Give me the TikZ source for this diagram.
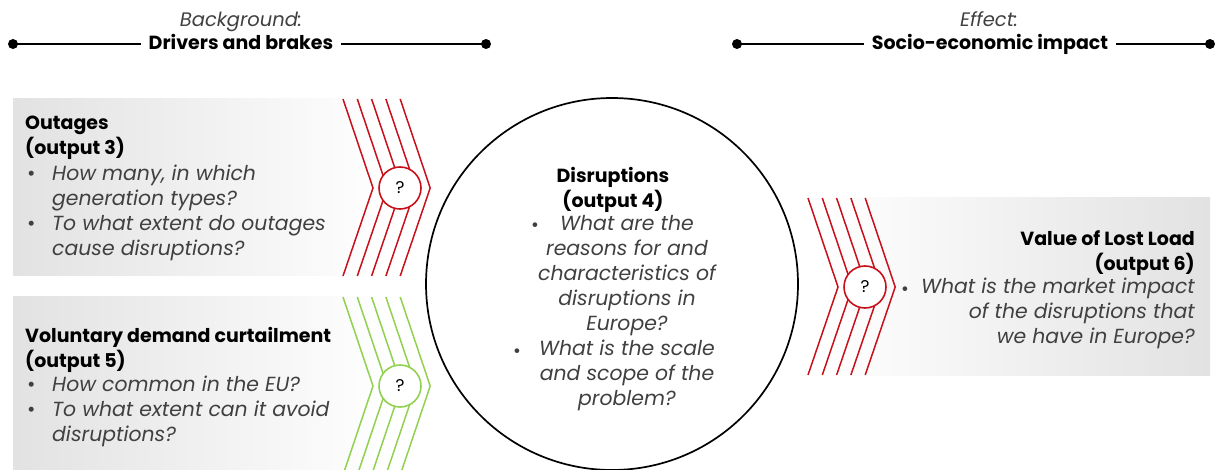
\documentclass[tikz,border=0pt]{standalone}
\usepackage{fontspec}
\setmainfont{Poppins}
\definecolor{chevred}{RGB}{200,16,26}
\definecolor{chevgreen}{RGB}{146,208,80}
\definecolor{boxgray}{RGB}{226,226,226}
\definecolor{itgray}{RGB}{64,64,64}
\newcommand{\bul}{\hspace*{2pt}\makebox[25pt][l]{\textbullet}}
\newcommand{\ind}{\hspace*{27pt}}
\begin{document}
\begin{tikzpicture}[x=1pt,y=-1pt,
  txt/.style={inner sep=0pt, font=\fontsize{19}{25}\selectfont},
  ttl/.style={txt, font=\fontsize{19}{25}\selectfont\bfseries, text=black},
  qst/.style={txt, font=\fontsize{20.4}{25}\selectfont\itshape, text=itgray},
  headline/.style={line width=1.6pt, black},
  chevline/.style={line width=1.5pt, line join=miter},
  qmark/.style={circle, draw, line width=1.6pt, fill=white, minimum size=42pt, inner sep=0pt,
    font=\fontsize{17}{17}\selectfont, text=black},
  bigcirc/.style={circle, draw=black, line width=1.7pt, minimum size=372pt, inner sep=0pt}
]
\useasboundingbox (0,0) rectangle (1218,470);
\clip (0,0) rectangle (1218,470);

% ---- headings ----
\node[txt, font=\fontsize{19.5}{25}\selectfont\itshape, text=itgray, anchor=base] (bgsub) at (241,27) {Background:};
\node[ttl, anchor=base, inner xsep=8pt] (bgttl) at (241,50) {Drivers and brakes};
\coordinate (bgL) at (13,44);
\coordinate (bgR) at (486,44);
\draw[headline] (bgL) -- (bgL -| bgttl.west);
\draw[headline] (bgR -| bgttl.east) -- (bgR);
\fill (bgL) circle (5pt) (bgR) circle (5pt);

\node[txt, font=\fontsize{19.5}{25}\selectfont\itshape, text=itgray, anchor=base] (efsub) at (989,27) {Effect:};
\node[ttl, anchor=base, inner xsep=8pt] (efttl) at (990,50) {Socio-economic impact};
\coordinate (efL) at (737,44);
\coordinate (efR) at (1210,44);
\draw[headline] (efL) -- (efL -| efttl.west);
\draw[headline] (efR -| efttl.east) -- (efR);
\fill (efL) circle (5pt) (efR) circle (5pt);

% ---- background boxes ----
\shade[left color=boxgray, right color=white] (13,99) rectangle (390,276);
\shade[left color=boxgray, right color=white] (13,297) rectangle (390,470);
\shade[left color=white, right color=boxgray] (820,198) rectangle (1210,375);

% ---- chevrons ----
\foreach \i in {0,...,4}{
  \draw[chevline, chevred]   (343+14.3*\i,99)  -- ++(30,89) -- ++(-30,88);
  \draw[chevline, chevgreen] (343+14.3*\i,297) -- ++(30,89) -- ++(-30,89);
  \draw[chevline, chevred]   (808+14.3*\i,198) -- ++(30,89) -- ++(-30,88);
}
\node[qmark, draw=chevred]   (q1) at (400,188) {?};
\node[qmark, draw=chevgreen] (q2) at (400,386) {?};
\node[qmark, draw=chevred]   (q3) at (865,287) {?};

% ---- central circle ----
\node[bigcirc] (disr) at (612,284) {};

% ---- Outages ----
\node[ttl, anchor=north west, align=left] (outT) at (25,116) {Outages\\(output 3)};
\node[qst, anchor=north west, align=left] (outQ) at (25,165) {%
  {\upshape\bul}How many, in which\\
  \ind generation types?\\
  {\upshape\bul}To what extent do outages\\
  \ind cause disruptions?};

% ---- Voluntary demand curtailment ----
\node[ttl, anchor=north west, align=left] (vdcT) at (25,327) {Voluntary demand curtailment\\(output 5)};
\node[qst, anchor=north west, align=left] (vdcQ) at (25,376) {%
  {\upshape\bul}How common in the EU?\\
  {\upshape\bul}To what extent can it avoid\\
  \ind disruptions?};

% ---- Disruptions ----
\node[ttl, anchor=north, align=center] (disT) at (613,167) {Disruptions\\(output 4)};
\node[qst, anchor=north, align=center] (disQ) at (627,215) {%
  What are the\\reasons for and\\characteristics of\\disruptions in\\Europe?\\
  What is the scale\\and scope of the\\problem?};
\node[txt, text=itgray, anchor=base] (b1) at (535,232) {\textbullet};
\node[txt, text=itgray, anchor=base] (b2) at (517,357) {\textbullet};

% ---- Value of Lost Load ----
\node[ttl, anchor=north east, align=right] (volT) at (1195,230) {Value of Lost Load\\(output 6)};
\node[qst, anchor=north east, align=right] (volQ) at (1195,278) {%
  What is the market impact\\of the disruptions that\\we have in Europe?};
\node[txt, text=itgray, anchor=base] (b3) at (905,295) {\textbullet};
\end{tikzpicture}
\end{document}
